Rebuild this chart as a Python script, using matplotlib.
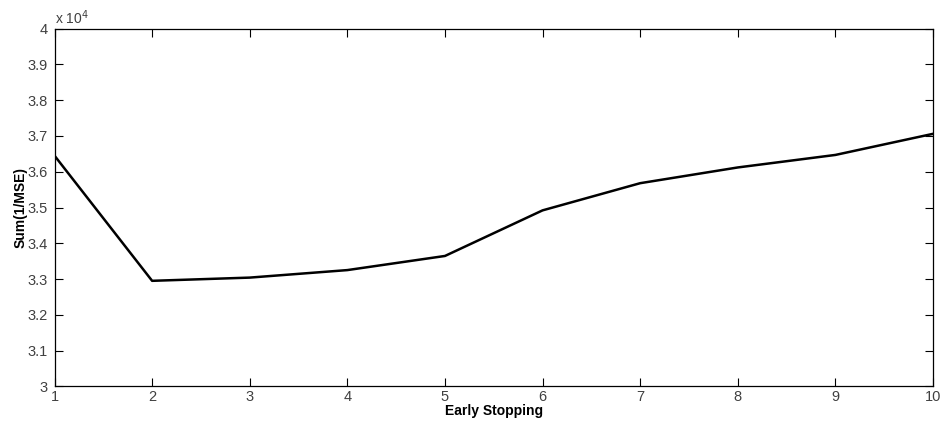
import matplotlib

matplotlib.use("Agg")
import matplotlib.pyplot as plt
from matplotlib.ticker import FuncFormatter

plt.rcParams["font.family"] = ["Liberation Sans", "DejaVu Sans"]

# early stopping setting vs sum of 1/MSE
stops = [1, 2, 3, 4, 5, 6, 7, 8, 9, 10]
sum_inv_mse = [36450, 32950, 33040, 33250, 33645, 34920, 35680, 36120, 36470, 37060]
y_ticks = [30000 + 1000 * i for i in range(11)]

fig = plt.figure(figsize=(9.43, 4.25), dpi=100)
ax = fig.add_axes([0.0578, 0.091, 0.9316, 0.8415])

ax.plot(stops, sum_inv_mse, color="black", linewidth=1.8)

ax.set_xlim(1, 10)
ax.set_ylim(30000, 40000)
ax.set_xticks(stops)
ax.set_yticks(y_ticks)
ax.yaxis.set_major_formatter(FuncFormatter(lambda v, _: f"{v / 1e4:g}"))

ax.tick_params(direction="in", top=True, right=True, length=6, width=0.8,
               labelsize=10.5, labelcolor="#404040")
ax.tick_params(axis="x", pad=3)
ax.tick_params(axis="y", pad=5)
for sp in ax.spines.values():
    sp.set_linewidth(0.9)

ax.set_xlabel("Early Stopping", fontsize=10, fontweight="bold", labelpad=0)
ax.set_ylabel("Sum(1/MSE)", fontsize=10, fontweight="bold", labelpad=0)
ax.text(0.0, 1.005, r"x 10$^{4}$", transform=ax.transAxes, fontsize=10,
        color="#404040", ha="left", va="bottom")

fig.savefig("out.png", dpi=100)
